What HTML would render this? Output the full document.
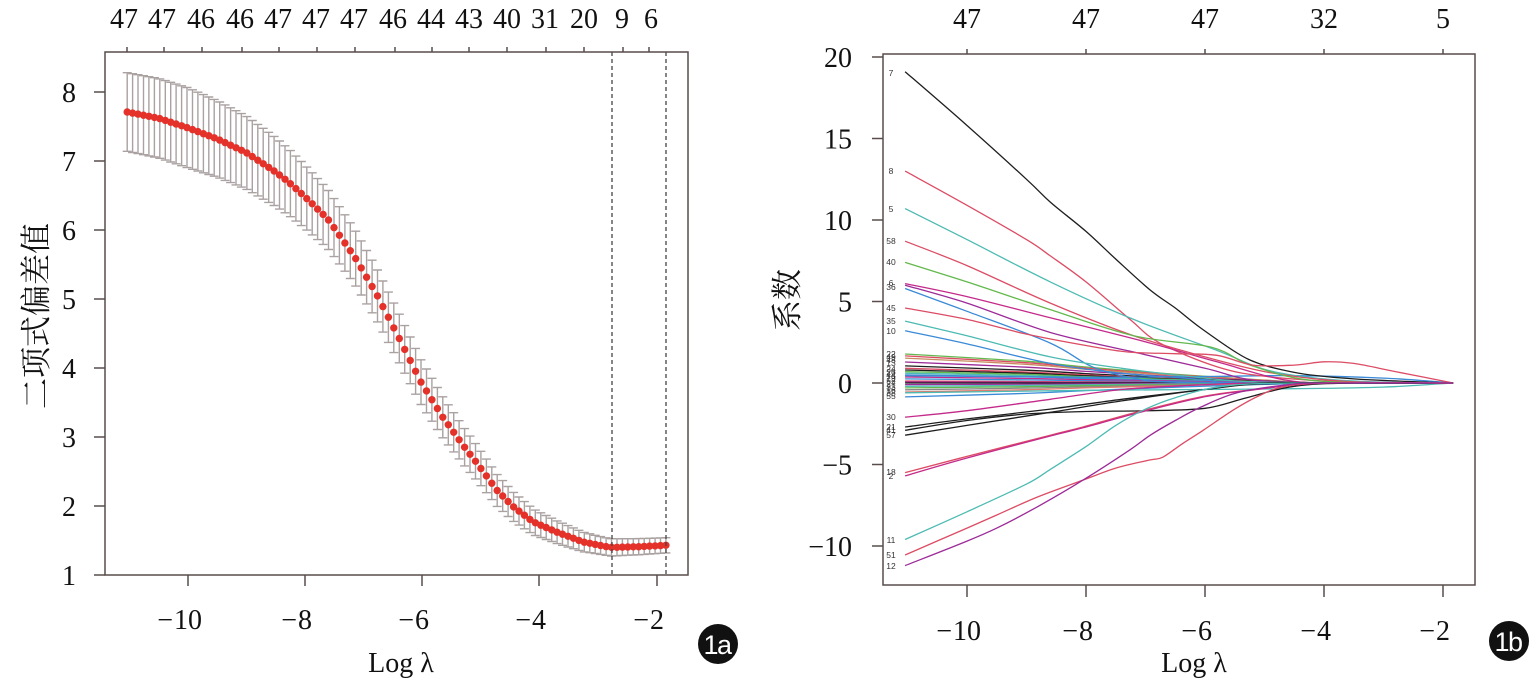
<!DOCTYPE html>
<html>
<head>
<meta charset="utf-8">
<style>
html,body{margin:0;padding:0;background:#fff;}
svg{display:block;}
.t{font-family:"Liberation Serif","Noto Serif CJK SC",serif;fill:#111;}
.c{font-family:"Liberation Serif","Noto Serif CJK SC",serif;fill:#111;}
.lab{font-family:"Liberation Sans",sans-serif;font-size:8.5px;fill:#333;}
.badge{font-family:"Liberation Sans",sans-serif;font-size:27px;fill:#fff;letter-spacing:-1.5px;}
</style>
</head>
<body>
<svg id="s" width="1533" height="679" viewBox="0 0 1533 679" xmlns="http://www.w3.org/2000/svg">
<rect x="0" y="0" width="1533" height="679" fill="#fff"/>

<!-- ============ LEFT PANEL ============ -->
<g id="leftData"></g>
<g stroke="#444" stroke-width="1.3" stroke-dasharray="4,3" fill="none">
  <line x1="612" y1="52" x2="612" y2="575"/>
  <line x1="666" y1="52" x2="666" y2="575"/>
</g>
<rect x="105" y="52" width="583" height="523" fill="none" stroke="#584c4c" stroke-width="1.5"/>
<g stroke="#584c4c" stroke-width="1.5">
  <line x1="94" y1="92" x2="105" y2="92"/>
  <line x1="94" y1="161" x2="105" y2="161"/>
  <line x1="94" y1="230" x2="105" y2="230"/>
  <line x1="94" y1="299" x2="105" y2="299"/>
  <line x1="94" y1="368" x2="105" y2="368"/>
  <line x1="94" y1="437" x2="105" y2="437"/>
  <line x1="94" y1="506" x2="105" y2="506"/>
  <line x1="94" y1="575" x2="105" y2="575"/>
  <line x1="188" y1="575" x2="188" y2="586"/>
  <line x1="305" y1="575" x2="305" y2="586"/>
  <line x1="422" y1="575" x2="422" y2="586"/>
  <line x1="539" y1="575" x2="539" y2="586"/>
  <line x1="657" y1="575" x2="657" y2="586"/>
  <line x1="127" y1="52" x2="127" y2="47"/>
  <line x1="164" y1="52" x2="164" y2="47"/>
  <line x1="202" y1="52" x2="202" y2="47"/>
  <line x1="242" y1="52" x2="242" y2="47"/>
  <line x1="279" y1="52" x2="279" y2="47"/>
  <line x1="317" y1="52" x2="317" y2="47"/>
  <line x1="355" y1="52" x2="355" y2="47"/>
  <line x1="395" y1="52" x2="395" y2="47"/>
  <line x1="432" y1="52" x2="432" y2="47"/>
  <line x1="469" y1="52" x2="469" y2="47"/>
  <line x1="507" y1="52" x2="507" y2="47"/>
  <line x1="546" y1="52" x2="546" y2="47"/>
  <line x1="584" y1="52" x2="584" y2="47"/>
  <line x1="623" y1="52" x2="623" y2="47"/>
  <line x1="649" y1="52" x2="649" y2="47"/>
</g>
<g class="t" font-size="28" text-anchor="end">
  <text x="76" y="102">8</text>
  <text x="76" y="171">7</text>
  <text x="76" y="240">6</text>
  <text x="76" y="309">5</text>
  <text x="76" y="378">4</text>
  <text x="76" y="447">3</text>
  <text x="76" y="516">2</text>
  <text x="76" y="585">1</text>
</g>
<g class="t" font-size="28" text-anchor="middle">
  <text x="188" y="629">10</text>
  <text x="305" y="629">8</text>
  <text x="422" y="629">6</text>
  <text x="539" y="629">4</text>
  <text x="657" y="629">2</text>
</g>
<g class="t" font-size="28" text-anchor="end">
  <text x="173" y="629">−</text>
  <text x="297" y="629">−</text>
  <text x="414" y="629">−</text>
  <text x="531" y="629">−</text>
  <text x="649" y="629">−</text>
</g>
<g class="t" font-size="28" text-anchor="middle">
  <text x="124" y="28">47</text>
  <text x="162" y="28">47</text>
  <text x="201" y="28">46</text>
  <text x="240" y="28">46</text>
  <text x="278" y="28">47</text>
  <text x="316" y="28">47</text>
  <text x="354" y="28">47</text>
  <text x="393" y="28">46</text>
  <text x="431" y="28">44</text>
  <text x="469" y="28">43</text>
  <text x="507" y="28">40</text>
  <text x="545" y="28">31</text>
  <text x="584" y="28">20</text>
  <text x="622" y="28">9</text>
  <text x="651" y="28">6</text>
</g>
<text class="t" x="401" y="672" font-size="28" text-anchor="middle">Log λ</text>
<text class="c" font-size="31" text-anchor="middle" transform="translate(47,316) rotate(-90)">二项式偏差值</text>
<circle cx="718" cy="644" r="20" fill="#111"/>
<text class="badge" x="717" y="654" text-anchor="middle">1a</text>

<!-- ============ RIGHT PANEL ============ -->
<g id="rightData" fill="none" stroke-width="1.3"></g>
<g id="rightLabels"></g>
<rect x="883" y="54" width="592" height="531" fill="none" stroke="#584c4c" stroke-width="1.5"/>
<g stroke="#584c4c" stroke-width="1.5">
  <line x1="872" y1="57" x2="883" y2="57"/>
  <line x1="872" y1="138.5" x2="883" y2="138.5"/>
  <line x1="872" y1="220" x2="883" y2="220"/>
  <line x1="872" y1="301.5" x2="883" y2="301.5"/>
  <line x1="872" y1="383" x2="883" y2="383"/>
  <line x1="872" y1="464.5" x2="883" y2="464.5"/>
  <line x1="872" y1="546" x2="883" y2="546"/>
  <line x1="967" y1="585" x2="967" y2="597"/>
  <line x1="1086" y1="585" x2="1086" y2="597"/>
  <line x1="1205" y1="585" x2="1205" y2="597"/>
  <line x1="1324" y1="585" x2="1324" y2="597"/>
  <line x1="1443" y1="585" x2="1443" y2="597"/>
  <line x1="967" y1="54" x2="967" y2="49"/>
  <line x1="1086" y1="54" x2="1086" y2="49"/>
  <line x1="1205" y1="54" x2="1205" y2="49"/>
  <line x1="1324" y1="54" x2="1324" y2="49"/>
  <line x1="1443" y1="54" x2="1443" y2="49"/>
</g>
<g class="t" font-size="28" text-anchor="end">
  <text x="852" y="67">20</text>
  <text x="852" y="148.5">15</text>
  <text x="852" y="230">10</text>
  <text x="852" y="311.5">5</text>
  <text x="852" y="393">0</text>
  <text x="852" y="474.5">−5</text>
  <text x="852" y="556">−10</text>
</g>
<g class="t" font-size="28" text-anchor="middle">
  <text x="967" y="640">10</text>
  <text x="1086" y="640">8</text>
  <text x="1205" y="640">6</text>
  <text x="1324" y="640">4</text>
  <text x="1443" y="640">2</text>
</g>
<g class="t" font-size="28" text-anchor="end">
  <text x="952" y="640">−</text>
  <text x="1078" y="640">−</text>
  <text x="1197" y="640">−</text>
  <text x="1316" y="640">−</text>
  <text x="1435" y="640">−</text>
</g>
<g class="t" font-size="28" text-anchor="middle">
  <text x="967" y="28">47</text>
  <text x="1086" y="28">47</text>
  <text x="1205" y="28">47</text>
  <text x="1324" y="28">32</text>
  <text x="1443" y="28">5</text>
</g>
<text class="t" x="1194" y="672" font-size="28" text-anchor="middle">Log λ</text>
<text class="c" font-size="31" text-anchor="middle" transform="translate(798,300) rotate(-90)">系数</text>
<circle cx="1509" cy="641" r="20" fill="#111"/>
<text class="badge" x="1508" y="651" text-anchor="middle">1b</text>
</svg>

<script>
(function(){
const NS='http://www.w3.org/2000/svg';
function el(tag,attrs,parent){const e=document.createElementNS(NS,tag);for(const k in attrs)e.setAttribute(k,attrs[k]);parent.appendChild(e);return e;}
function interp(keys,v){if(v<=keys[0][0])return keys[0][1];for(let i=1;i<keys.length;i++){if(v<=keys[i][0]){const a=keys[i-1],b=keys[i];return a[1]+(b[1]-a[1])*(v-a[0])/(b[0]-a[0]);}}return keys[keys.length-1][1];}

/* ---------- left panel ---------- */
const lx=v=>188+(v+10)*58.5, ly=c=>92+(8-c)*69;
const cvk=[[-11.04,7.71],[-10.5,7.62],[-10,7.48],[-9.5,7.32],[-9,7.12],[-8.5,6.84],[-8.26,6.68],[-8,6.48],[-7.61,6.16],[-7.15,5.61],[-6.77,5.06],[-6.39,4.43],[-6.02,3.80],[-5.64,3.28],[-5.28,2.86],[-5.06,2.62],[-4.72,2.23],[-4.44,1.99],[-4.10,1.77],[-3.69,1.62],[-3.25,1.48],[-2.84,1.41],[-2.75,1.40],[-2.3,1.41],[-1.83,1.43]];
const sek=[[-11.04,0.57],[-10,0.58],[-8.65,0.51],[-7.5,0.42],[-6.5,0.36],[-5,0.25],[-4,0.18],[-3,0.13],[-2.5,0.12],[-1.83,0.11]];
const L=document.getElementById('leftData');
const gB=el('g',{stroke:'#aaa1a1','stroke-width':'1.4',fill:'none'},L);
const gD=el('g',{fill:'#e4322b'},L);
for(let i=0;i<100;i++){
  const v=-11.04+i*9.21/99;const m=interp(cvk,v),s=interp(sek,v);
  const x=lx(v).toFixed(1),y1=ly(m+s).toFixed(1),y2=ly(m-s).toFixed(1);
  const xa=(lx(v)-4.5).toFixed(1),xb=(lx(v)+4.5).toFixed(1);
  el('path',{d:`M${x},${y1}V${y2}M${xa},${y1}H${xb}M${xa},${y2}H${xb}`},gB);
  el('circle',{cx:x,cy:ly(m).toFixed(1),r:'3.7'},gD);
}

/* ---------- right panel ---------- */
const rx=v=>967+(v+10)*59.5, ry=c=>383-c*16.3;
function smooth(pts){
  let d=`M${pts[0][0].toFixed(1)},${pts[0][1].toFixed(1)}`;
  for(let i=0;i<pts.length-1;i++){
    const p0=pts[Math.max(0,i-1)],p1=pts[i],p2=pts[i+1],p3=pts[Math.min(pts.length-1,i+2)];
    const c1=[p1[0]+(p2[0]-p0[0])/6,p1[1]+(p2[1]-p0[1])/6],c2=[p2[0]-(p3[0]-p1[0])/6,p2[1]-(p3[1]-p1[1])/6];
    d+=`C${c1[0].toFixed(1)},${c1[1].toFixed(1)} ${c2[0].toFixed(1)},${c2[1].toFixed(1)} ${p2[0].toFixed(1)},${p2[1].toFixed(1)}`;
  }
  return d;
}
const BK='#1e1e1e',RD='#dc4c64',GR='#63b84d',BL='#3a8ad6',TL='#4dbab3',PU='#9c2a98',MG='#c42a8a',OR='#c98a60';
const lines=[];
const cl=[[1.78,GR],[1.66,RD],[1.53,OR],[1.29,PU],[1.05,BK],[0.9,RD],[0.8,BK],[0.7,GR],[0.6,TL],[0.5,BL],[0.37,MG],[0.25,BL],[0.12,RD],[0.06,PU],[0,BK],[-0.1,PU],[-0.2,TL],[-0.3,GR],[-0.42,'#888'],[-0.55,'#e07a6a'],[-0.85,BL]];
cl.forEach(([s,c])=>lines.push([c,[[-11.04,s],[-9,s*0.75],[-8,s*0.55],[-6.5,s*0.3],[-5,s*0.1],[-4,0],[-1.83,0]]]));
lines.push([TL,[[-11.04,-0.6],[-8,-0.45],[-6,-0.4],[-4.5,-0.35],[-3,-0.25],[-1.83,0]]]);
lines.push([BL,[[-11.04,0.45],[-8,0.35],[-6,0.4],[-4.5,0.45],[-3,0.3],[-1.83,0]]]);
lines.push([BK,[[-11.04,19.1],[-10,15.8],[-9,12.5],[-8.6,11.1],[-8,9.3],[-7.5,7.6],[-6.92,5.7],[-6.5,4.6],[-6.08,3.4],[-5.46,1.84],[-5.1,1.2],[-4.69,0.8],[-4.24,0.5],[-3.5,0.25],[-2.5,0.08],[-1.83,0]]]);
lines.push([RD,[[-11.04,13],[-10,10.9],[-9,8.8],[-8.6,7.8],[-8,6.2],[-7.26,3.9],[-6.76,2.45],[-5.8,1.0],[-4.96,0.4],[-3.5,0.05],[-1.83,0]]]);
lines.push([TL,[[-11.04,10.7],[-10,8.8],[-8.6,6.2],[-7.2,3.9],[-5.8,2.0],[-4.96,0.8],[-4,0.25],[-3,0.05],[-1.83,0]]]);
lines.push([RD,[[-11.04,8.7],[-10,7.2],[-8.6,4.9],[-7.2,2.9],[-6,1.6],[-5,0.7],[-4,0.2],[-3,0],[-1.83,0]]]);
lines.push([GR,[[-11.04,7.4],[-10,6.2],[-8.6,4.5],[-7.2,2.9],[-5.9,2.2],[-5.24,1.1],[-4.3,0.2],[-3,0],[-1.83,0]]]);
lines.push([MG,[[-11.04,6.1],[-10,5.3],[-8.6,4.0],[-6.92,2.45],[-5.8,1.3],[-4.5,0.1],[-3,0],[-1.83,0]]]);
lines.push([PU,[[-11.04,6.0],[-10,4.9],[-8.6,3.1],[-7.2,1.9],[-6,0.9],[-5,0.1],[-3,0],[-1.83,0]]]);
lines.push([BL,[[-11.04,5.8],[-10,4.4],[-8.6,2.45],[-7.9,1.0],[-7.2,0.3],[-6.5,0.05],[-4,0],[-1.83,0]]]);
lines.push([RD,[[-11.04,4.6],[-10,3.9],[-9,3.0],[-8,2.3],[-7.3,1.9],[-6.5,1.8],[-5.8,1.7],[-5.2,1.1],[-4.5,1.1],[-4,1.3],[-3.5,1.2],[-2.8,0.7],[-1.83,0]]]);
lines.push([TL,[[-11.04,3.8],[-10,2.9],[-8.6,1.6],[-7.4,0.9],[-6,0.3],[-5,0.05],[-3,0],[-1.83,0]]]);
lines.push([BL,[[-11.04,3.2],[-10,2.4],[-8.6,1.2],[-7.4,0.6],[-6,0.2],[-5.5,0],[-3,0],[-1.83,0]]]);
lines.push([MG,[[-11.04,-2.1],[-10,-1.7],[-8.6,-1.0],[-7.4,-0.4],[-6,-0.1],[-5,0],[-3,0],[-1.83,0]]]);
lines.push([BK,[[-11.04,-2.7],[-10,-2.2],[-8.6,-1.6],[-7.4,-1.0],[-6,-0.4],[-5,0],[-3,0],[-1.83,0]]]);
lines.push([BK,[[-11.04,-2.9],[-10,-2.3],[-9,-1.9],[-8,-1.75],[-7,-1.7],[-6,-1.55],[-5.3,-0.9],[-4.5,-0.2],[-3.5,0],[-1.83,0]]]);
lines.push([BK,[[-11.04,-3.2],[-10,-2.6],[-8.6,-1.8],[-7.4,-1.1],[-6,-0.4],[-5,-0.05],[-3,0],[-1.83,0]]]);
lines.push([RD,[[-11.04,-5.5],[-10,-4.5],[-8.6,-3.2],[-8.05,-2.7],[-7.2,-1.84],[-6.08,-0.86],[-5.24,-0.43],[-4,0],[-1.83,0]]]);
lines.push([MG,[[-11.04,-5.7],[-10,-4.6],[-8.6,-3.25],[-8.05,-2.75],[-7.2,-1.9],[-6.08,-0.9],[-5.24,-0.45],[-4,0],[-1.83,0]]]);
lines.push([TL,[[-11.04,-9.6],[-10,-7.9],[-9,-6.2],[-8.6,-5.3],[-8,-3.9],[-7.5,-2.6],[-7,-1.6],[-6.5,-0.9],[-5.7,-0.2],[-4.5,0],[-1.83,0]]]);
lines.push([RD,[[-11.04,-10.55],[-10,-8.9],[-9.5,-8.1],[-8.82,-7.0],[-8.05,-5.96],[-7.48,-5.2],[-6.92,-4.72],[-6.71,-4.55],[-6.37,-3.7],[-6.03,-2.9],[-5.5,-1.6],[-5.1,-0.8],[-4.7,-0.25],[-4,0],[-1.83,0]]]);
lines.push([PU,[[-11.04,-11.2],[-10,-9.7],[-9.5,-8.9],[-8.82,-7.6],[-8.05,-5.96],[-7.26,-4.1],[-6.92,-3.2],[-6.5,-2.3],[-6.08,-1.5],[-5.46,-0.6],[-4.6,-0.1],[-4,0],[-1.83,0]]]);
const R=document.getElementById('rightData');
lines.forEach(([c,k])=>{
  const pts=k.map(p=>[rx(p[0]),ry(p[1])]);
  el('path',{d:smooth(pts),stroke:c},R);
});
const labs=[['7',73],['8',171],['5',209],['58',241],['40',262],['6',283],['36',287],['45',308],['35',321],['10',331],
['22',354],['49',357],['48',360],['13',363],['24',369],['26',372],['44',375],['19',378],['52',381],['27',384],['33',387],['16',390],['38',393],['55',396],
['30',417],['21',427],['41',430],['57',435],['18',472],['2',476],['11',540],['51',555],['12',566]];
const RL=document.getElementById('rightLabels');
labs.forEach(([t,y])=>{const e=el('text',{x:'891',y:(y+3).toString(),'text-anchor':'middle','class':'lab'},RL);e.textContent=t;});
})();
</script>
</body>
</html>
